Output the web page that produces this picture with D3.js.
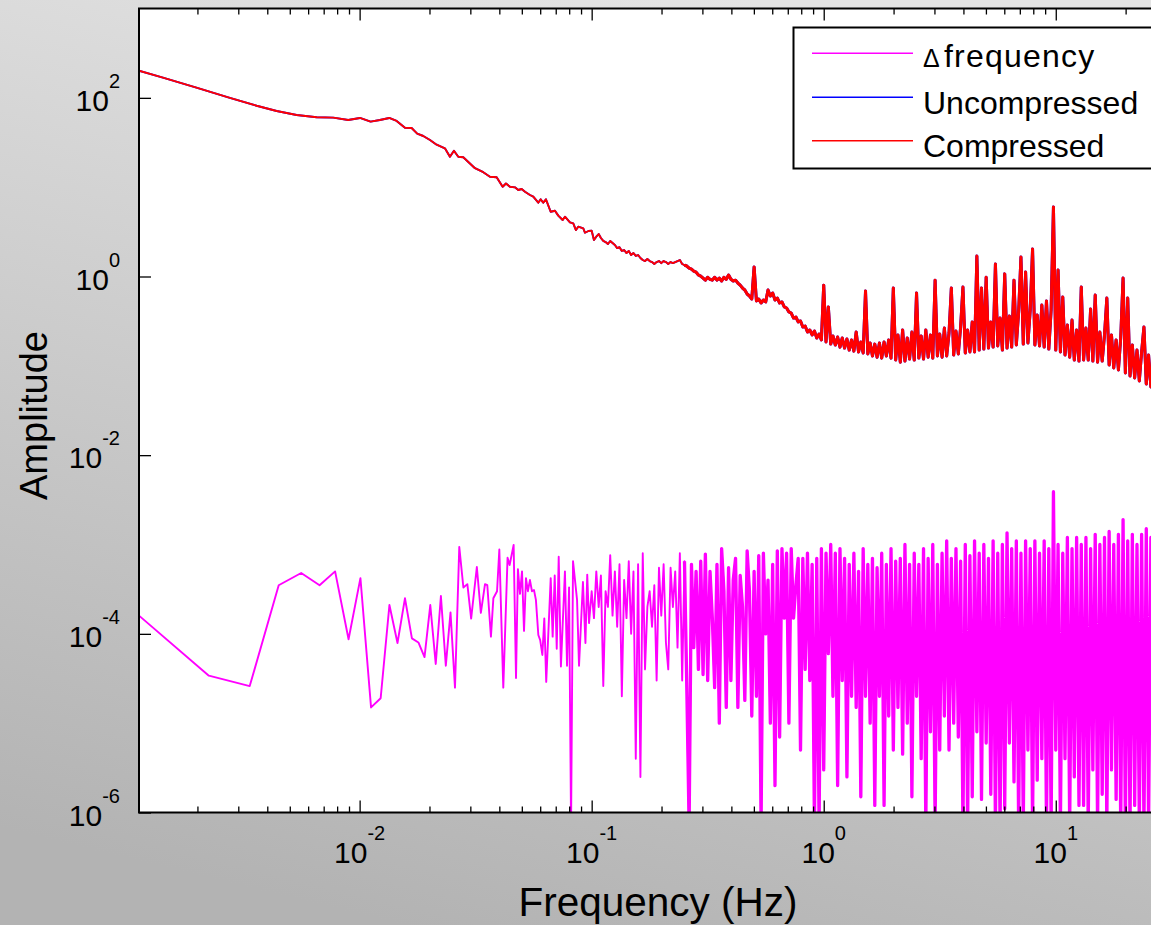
<!DOCTYPE html>
<html>
<head>
<meta charset="utf-8">
<script src="https://cdn.jsdelivr.net/npm/d3@7"></script>
<style>
  html, body { margin: 0; padding: 0; overflow: hidden; background: #cfcfcf; }
  svg { display: block; font-family: "Liberation Sans", Arial, sans-serif; }
</style>
</head>
<body>
<svg id="chart" width="1151" height="925"></svg>
<script>
// ---- data ----
// low-frequency part of the spectra (below 0.1 Hz)
const redLowFreq = [0.00112, 0.00142, 0.00198, 0.00276, 0.0036, 0.00439, 0.00535, 0.00653, 0.0077, 0.00893,
  0.01003, 0.01115, 0.01223, 0.01341, 0.01444, 0.01568, 0.01675, 0.01771, 0.0188, 0.0201,
  0.02147, 0.02331, 0.0245, 0.0255, 0.02661, 0.02797, 0.03141, 0.0341, 0.03644, 0.03895,
  0.04134, 0.04272, 0.04444, 0.04671, 0.04826, 0.04992, 0.05158, 0.05421, 0.05602, 0.05886,
  0.06028, 0.06185, 0.06353, 0.06658, 0.06948, 0.07178, 0.07499, 0.07672, 0.08061, 0.08329,
  0.08555, 0.08753, 0.092, 0.09357, 0.0969];
const redLowAmp = [201, 168, 130, 100, 81.6, 71.2, 64.3, 60.6, 60.0, 56.5,
  59.5, 54.1, 56.5, 59.5, 55.1, 46.3, 45.9, 39.7, 37.4, 33.7,
  29.9, 27.2, 21.9, 25.6, 21.9, 21.6, 16.3, 14.7, 13.1, 12.9,
  10.1, 11.0, 10.1, 9.96, 9.29, 9.53, 8.89, 8.17, 7.82, 6.70,
  7.31, 6.70, 7.31, 5.31, 5.45, 4.80, 4.29, 4.67, 4.04, 3.94,
  3.31, 3.61, 3.46, 3.09, 3.23];

const magLowFreq = [0.00112, 0.00224, 0.00336, 0.00448, 0.0056, 0.00672, 0.00784, 0.00896, 0.01008, 0.0112,
  0.01232, 0.01344, 0.01456, 0.01568, 0.0168, 0.01792, 0.01904, 0.02016, 0.02128, 0.0224,
  0.02352, 0.02464, 0.02576, 0.02688, 0.028, 0.02912, 0.03024, 0.032, 0.0333, 0.0347,
  0.0355, 0.0368, 0.0377, 0.0391, 0.04, 0.0416, 0.0434, 0.0443, 0.0461, 0.0472,
  0.0481, 0.0491, 0.0501, 0.0511, 0.0521, 0.0531, 0.0542, 0.0553, 0.0564, 0.0575,
  0.0589, 0.06, 0.0613, 0.0625, 0.0637, 0.0666, 0.0679, 0.0693, 0.0707, 0.0721,
  0.0737, 0.0767, 0.0783, 0.0799, 0.0815, 0.0831, 0.0865, 0.0882, 0.0917, 0.094,
  0.0957, 0.0974];
const magLowAmp = [1.6e-4, 3.4e-5, 2.6e-5, 3.5e-4, 4.8e-4, 3.5e-4, 5e-4, 8.7e-5, 4.2e-4, 1.5e-5,
  1.9e-5, 2.1e-4, 7.9e-5, 2.5e-4, 8.9e-5, 8e-5, 5.5e-5, 2.1e-4, 4.6e-5, 2.65e-4,
  4.4e-5, 1.74e-4, 2.5e-5, 9.4e-4, 3.3e-4, 3.6e-4, 1.48e-4, 5.6e-4, 1.72e-4, 3.6e-4,
  3.5e-4, 9.3e-5, 2.5e-4, 3e-4, 8.8e-4, 2.5e-5, 7.1e-4, 5.9e-4, 9.9e-4, 3.2e-5,
  5.3e-4, 2.8e-4, 5e-4, 1.08e-4, 4.2e-4, 3e-4, 4e-4, 3e-4, 3.1e-4, 2.4e-4,
  9.7e-5, 8.5e-5, 5.8e-5, 1.49e-4, 2.9e-5, 4.2e-4, 9.3e-5, 4.5e-4, 6.8e-5, 7.3e-4,
  4.3e-5, 5e-4, 4.4e-5, 3.3e-4, 7e-7, 6.5e-4, 2.4e-4, 4.4e-5, 3.8e-4, 7.9e-5,
  4.6e-4, 1.32e-4];

// high-frequency part (0.1 Hz and up), both spectra sampled at these frequencies
const hiFreq = [0.1, 0.1023, 0.1047, 0.1072, 0.1096, 0.1122, 0.1148, 0.1175, 0.1202, 0.123,
  0.1259, 0.1288, 0.1318, 0.1349, 0.138, 0.1413, 0.1445, 0.1479, 0.1514, 0.1549,
  0.1585, 0.1622, 0.166, 0.1698, 0.1738, 0.1778, 0.182, 0.1862, 0.1905, 0.195,
  0.1995, 0.2042, 0.2089, 0.2138, 0.2188, 0.2239, 0.2291, 0.2344, 0.2399, 0.2455,
  0.2512, 0.257, 0.263, 0.2692, 0.2754, 0.2818, 0.2884, 0.2951, 0.302, 0.309,
  0.3162, 0.3236, 0.3311, 0.3388, 0.3467, 0.3548, 0.3631, 0.3715, 0.3802, 0.389,
  0.3981, 0.4074, 0.4169, 0.4266, 0.4365, 0.4467, 0.4571, 0.4677, 0.4786, 0.4898,
  0.5012, 0.5129, 0.5248, 0.537, 0.5495, 0.5623, 0.5754, 0.5888, 0.6026, 0.6166,
  0.631, 0.6457, 0.6607, 0.6761, 0.6918, 0.7079, 0.7244, 0.7413, 0.7586, 0.7762,
  0.7943, 0.8128, 0.8318, 0.8511, 0.871, 0.8913, 0.912, 0.9333, 0.955, 0.9772,
  1, 1.023, 1.047, 1.072, 1.096, 1.122, 1.148, 1.175, 1.202, 1.23,
  1.259, 1.288, 1.318, 1.349, 1.38, 1.413, 1.445, 1.479, 1.514, 1.549,
  1.585, 1.622, 1.66, 1.698, 1.738, 1.778, 1.82, 1.862, 1.905, 1.95,
  1.995, 2.042, 2.089, 2.138, 2.188, 2.239, 2.291, 2.344, 2.399, 2.455,
  2.512, 2.57, 2.63, 2.692, 2.754, 2.818, 2.884, 2.951, 3.02, 3.09,
  3.162, 3.236, 3.311, 3.388, 3.467, 3.548, 3.631, 3.715, 3.802, 3.89,
  3.981, 4.074, 4.169, 4.266, 4.365, 4.467, 4.571, 4.677, 4.786, 4.898,
  5.012, 5.129, 5.248, 5.37, 5.495, 5.623, 5.754, 5.888, 6.026, 6.166,
  6.31, 6.457, 6.607, 6.761, 6.918, 7.079, 7.244, 7.413, 7.586, 7.762,
  7.943, 8.128, 8.318, 8.511, 8.71, 8.913, 9.12, 9.333, 9.55, 9.772,
  10, 10.23, 10.47, 10.72, 10.96, 11.22, 11.48, 11.75, 12.02, 12.3,
  12.59, 12.88, 13.18, 13.49, 13.8, 14.13, 14.45, 14.79, 15.14, 15.49,
  15.85, 16.22, 16.6, 16.98, 17.38, 17.78, 18.2, 18.62, 19.05, 19.5,
  19.95, 20.42, 20.89, 21.38, 21.88, 22.39, 22.91, 23.44, 23.99, 24.55,
  25.12, 25.7, 26.3];

const redHiAmp = [3.26, 2.56, 2.79, 2.99, 2.70, 2.50, 2.43, 2.31, 2.50, 2.37,
  2.25, 2.08, 2.13, 1.93, 1.98, 1.83, 1.93, 1.74, 1.83, 1.70,
  1.74, 1.61, 1.53, 1.49, 1.57, 1.49, 1.45, 1.38, 1.45, 1.49,
  1.41, 1.49, 1.45, 1.38, 1.45, 1.41, 1.45, 1.49, 1.53, 1.38,
  1.34, 1.31, 1.24, 1.21, 1.15, 1.12, 1.04, 1.01, 0.96, 0.91,
  0.98, 0.93, 0.91, 0.98, 0.91, 0.96, 0.89, 0.98, 0.93, 1.04,
  0.93, 0.89, 0.91, 0.845, 0.80, 0.743, 0.706, 0.637, 0.605, 0.56,
  1.28, 0.532, 0.56, 0.505, 0.546, 0.519, 0.706, 0.605, 0.653, 0.546,
  0.574, 0.505, 0.519, 0.456, 0.444, 0.401, 0.39, 0.343, 0.352, 0.31,
  0.318, 0.272, 0.279, 0.239, 0.252, 0.222, 0.245, 0.205, 0.227, 0.195,
  0.80, 0.185, 0.456, 0.175, 0.216, 0.171, 0.21, 0.162, 0.205, 0.158,
  0.20, 0.15, 0.195, 0.146, 0.239, 0.143, 0.185, 0.139, 0.688, 0.136,
  0.18, 0.129, 0.175, 0.125, 0.18, 0.122, 0.185, 0.129, 0.195, 0.122,
  0.743, 0.116, 0.222, 0.11, 0.252, 0.113, 0.205, 0.119, 0.239, 0.116,
  0.653, 0.122, 0.216, 0.119, 0.252, 0.125, 0.222, 0.122, 0.91, 0.129,
  0.227, 0.125, 0.265, 0.129, 0.233, 0.743, 0.132, 0.245, 0.136, 0.272,
  0.763, 0.139, 0.252, 0.143, 0.31, 0.143, 1.70, 0.15, 0.743, 0.154,
  0.98, 0.158, 0.31, 0.162, 1.38, 0.167, 0.343, 0.15, 1.07, 0.158,
  0.361, 0.162, 0.91, 0.171, 0.401, 1.65, 0.175, 1.12, 0.18, 0.422,
  2.03, 0.171, 0.37, 0.167, 0.48, 0.162, 0.532, 0.154, 0.422, 6.0,
  0.15, 1.18, 0.143, 0.59, 0.132, 0.286, 0.125, 0.326, 0.116, 0.252,
  0.113, 0.763, 0.116, 0.265, 0.116, 0.433, 0.113, 0.62, 0.11, 0.239,
  0.113, 0.222, 0.574, 0.102, 0.222, 0.0946, 0.195, 0.0898, 0.205, 0.96,
  0.083, 0.574, 0.0769, 0.171, 0.0731, 0.15, 0.0677, 0.143, 0.272, 0.0626,
  0.132, 0.058, 0.116];

const magHiAmp = [3e-4, 1.5e-4, 5e-4, 2e-4, 4.5e-4, 2.6e-5, 3e-4, 2e-4, 7.6e-4, 1.6e-4,
  5e-4, 1.2e-4, 6e-4, 2e-5, 4e-4, 1.5e-4, 6.5e-4, 1e-4, 5e-4, 4e-6,
  6e-4, 2.5e-6, 8e-4, 4e-5, 2e-4, 3e-4, 1.2e-4, 3.5e-4, 3e-5, 5.5e-4,
  1.6e-4, 6e-4, 8e-5, 4e-5, 5.5e-4, 2e-4, 5e-4, 7e-5, 8e-4, 3e-5,
  6.5e-4, 2.5e-5, 7e-7, 6e-4, 7e-5, 5e-4, 4e-5, 6.5e-4, 3.5e-5, 7.8e-4,
  3e-5, 5e-4, 1.5e-4, 2.5e-5, 6e-4, 1e-5, 9e-4, 3e-4, 1.5e-5, 5.5e-4,
  3e-5, 4e-4, 7e-4, 1.5e-5, 4.5e-4, 2e-4, 1.8e-5, 8.5e-4, 3e-4, 1.2e-5,
  5e-4, 2e-5, 7.5e-4, 7e-7, 8e-4, 1e-4, 4e-4, 1e-5, 6e-4, 2e-6,
  8.5e-4, 7e-6, 9e-4, 1.5e-4, 8e-4, 1e-5, 9e-4, 1.5e-4, 3.5e-4, 7e-4,
  5e-6, 7e-4, 4e-5, 8e-4, 3e-5, 6e-4, 7e-7, 7e-4, 7e-7, 9e-4,
  3e-6, 8e-4, 6e-5, 1e-3, 2e-5, 8e-4, 2e-6, 9e-4,
  3e-5, 7e-4, 2.5e-6, 6e-4, 2e-5, 8e-4, 1.5e-5, 5e-4, 1.5e-6, 9e-4,
  2e-5, 6e-4, 1e-5, 7e-4, 1.2e-6, 5.5e-4, 2e-5, 8e-4, 1.2e-6, 6e-4,
  1.2e-5, 9e-4, 5e-6, 6.5e-4, 1.5e-5, 7e-4, 4.5e-6, 1e-3, 1e-5, 6e-4,
  1.5e-6, 8e-4, 2e-5, 6e-4, 4e-6, 9e-4, 7e-7, 7e-4, 8e-6, 1e-3,
  7e-7, 6e-4, 5e-6, 8e-4, 1.2e-5, 1.1e-3, 5e-6, 7e-4, 1e-5, 9e-4,
  7e-6, 6.5e-4, 7e-7, 1e-3, 7e-7, 7.5e-4, 1.5e-6, 1.1e-3, 8e-6, 8e-4,
  1.4e-6, 1e-3, 6e-6, 7e-4, 1.6e-6, 1.1e-3, 7e-7, 8e-4, 7e-7, 1e-3,
  1.1e-6, 1.35e-3, 6e-6, 9e-4, 2.2e-6, 1.1e-3, 7e-7, 8e-4, 7e-7, 1.1e-3,
  5e-6, 9e-4, 7e-7, 1.1e-3, 2.3e-6, 8e-4, 4e-6, 1.1e-3, 7e-7, 9e-4,
  7e-7, 3.9e-3, 5e-6, 1e-3, 7e-7, 8e-4, 4e-6, 1.2e-3, 7e-7, 9e-4,
  2.5e-6, 1.2e-3, 1.2e-6, 1e-3, 1.2e-6, 1.2e-3, 7e-7, 9e-4, 3e-6, 1.3e-3,
  7e-7, 1e-3, 1.6e-6, 1.2e-3, 7e-7, 1.4e-3, 3e-6, 1e-3, 1.4e-6, 1.3e-3,
  7e-7, 1.9e-3, 7e-7, 1.1e-3, 7e-7, 1.3e-3, 1.2e-6, 1e-3, 7e-7, 1.3e-3,
  7e-7, 1.5e-3, 7e-7, 1.2e-3, 3e-6];

// axis ticks and labels
const xMajorTicks = [0.01, 0.1, 1, 10];
const xTickExp = ["-2", "-1", "0", "1"];
const yMajorTicks = [1e-6, 1e-4, 1e-2, 1, 100];
const yTickExp = ["-6", "-4", "-2", "0", "2"];
const legendNames = ["frequency", "Uncompressed", "Compressed"];
const legendColors = ["#ff00ff", "#0000ff", "#ff0000"];

// ---- build the series ----
const pairs = (fs, as) => fs.map((f, i) => [f, as[i]]);
const redHi = pairs(hiFreq, redHiAmp);
const magHi = pairs(hiFreq, magHiAmp);
const compressed = pairs(redLowFreq, redLowAmp).concat(redHi);
const uncompressed = compressed; // sits right under the red curve
const deltaFreq = pairs(magLowFreq, magLowAmp).concat(magHi);

const svg = d3.select("#chart");
const width = +svg.attr("width");
const height = +svg.attr("height");

const plot = { left: 139, top: 8.5, right: 1177, bottom: 812.5 };

//background
const defs = svg.append("defs");
const grad = defs.append("linearGradient").attr("id", "bg")
  .attr("x1", 0.65).attr("y1", 0).attr("x2", 0.35).attr("y2", 1);
grad.append("stop").attr("offset", 0).attr("stop-color", "#e4e4e4");
grad.append("stop").attr("offset", 1).attr("stop-color", "#b3b3b3");
svg.append("rect").attr("width", width).attr("height", height).attr("fill", "url(#bg)");

defs.append("clipPath").attr("id", "clip").append("rect")
  .attr("x", plot.left).attr("y", plot.top)
  .attr("width", plot.right - plot.left).attr("height", plot.bottom - plot.top);

svg.append("rect")
  .attr("x", plot.left).attr("y", plot.top)
  .attr("width", plot.right - plot.left).attr("height", plot.bottom - plot.top)
  .attr("fill", "white");

//scales
const x = d3.scaleLog().domain([0.00112, 33.3]).range([plot.left, plot.right]);
const y = d3.scaleLog().domain([1e-6, 1e3]).range([plot.bottom, plot.top]);

const line = d3.line().x(d => x(d[0])).y(d => y(d[1]));

//lines - the dense high-frequency stretch is stroked heavier so it reads as a solid band
const lines = svg.append("g").attr("clip-path", "url(#clip)").attr("fill", "none")
  .attr("stroke-linejoin", "round");
[[deltaFreq, magHi, 0, 3.3], [uncompressed, redHi, 1, 3], [compressed, redHi, 2, 3]].forEach(([full, hi, i, w]) => {
  lines.append("path").datum(full).attr("d", line)
    .attr("stroke", legendColors[i]).attr("stroke-width", 1.9);
  lines.append("path").datum(hi.slice(40)).attr("d", line)
    .attr("stroke", legendColors[i]).attr("stroke-width", w);
});

//ticks (inward, on all sides of the box)
const xMinorTicks = [];
[0.001, 0.01, 0.1, 1, 10].forEach(d => {
  for (let m = 2; m <= 9; m++) {
    const v = m * d;
    if (v > x.domain()[0] && v < x.domain()[1]) xMinorTicks.push(v);
  }
});

const axes = svg.append("g");
[{ ticks: xMinorTicks, size: 6 }, { ticks: xMajorTicks, size: 12 }].forEach(t => {
  axes.append("g").attr("transform", `translate(0,${plot.bottom})`)
    .call(d3.axisTop(x).tickValues(t.ticks).tickSize(t.size).tickSizeOuter(0).tickFormat(""));
  axes.append("g").attr("transform", `translate(0,${plot.top})`)
    .call(d3.axisBottom(x).tickValues(t.ticks).tickSize(t.size).tickSizeOuter(0).tickFormat(""));
});
axes.append("g").attr("transform", `translate(${plot.left},0)`)
  .call(d3.axisRight(y).tickValues(yMajorTicks).tickSize(12).tickSizeOuter(0).tickFormat(""));
axes.selectAll(".domain").remove();
axes.selectAll(".tick line").attr("stroke", "black").attr("stroke-width", 1.3);

//box
svg.append("rect")
  .attr("x", plot.left).attr("y", plot.top)
  .attr("width", plot.right - plot.left).attr("height", plot.bottom - plot.top)
  .attr("fill", "none").attr("stroke", "black").attr("stroke-width", 2);

//tick labels
xMajorTicks.forEach((v, i) => {
  const t = svg.append("text")
    .attr("x", x(v)).attr("y", 863)
    .attr("text-anchor", "middle")
    .attr("font-size", 30);
  t.append("tspan").text("10");
  t.append("tspan").attr("dy", -23).attr("font-size", 20).text(xTickExp[i]);
});
yMajorTicks.forEach((v, i) => {
  const t = svg.append("text")
    .attr("x", 120).attr("y", y(v) + 13)
    .attr("text-anchor", "end")
    .attr("font-size", 30);
  t.append("tspan").text("10");
  t.append("tspan").attr("dy", -23).attr("font-size", 20).text(yTickExp[i]);
});

//axis titles
svg.append("text")
  .attr("x", 658).attr("y", 916)
  .attr("text-anchor", "middle")
  .attr("font-size", 40.5)
  .text("Frequency (Hz)");
svg.append("text")
  .attr("transform", `translate(47,${(plot.top + plot.bottom) / 2 + 5}) rotate(-90)`)
  .attr("text-anchor", "middle")
  .attr("font-size", 38)
  .text("Amplitude");

//legend
const legend = svg.append("g");
legend.append("rect")
  .attr("x", 793.5).attr("y", 27.5).attr("width", 380).attr("height", 141)
  .attr("fill", "white").attr("stroke", "black").attr("stroke-width", 2);
const rowY = [53.3, 97.3, 140.7];
legendNames.forEach((name, i) => {
  legend.append("line")
    .attr("x1", 812).attr("x2", 913).attr("y1", rowY[i]).attr("y2", rowY[i])
    .attr("stroke", legendColors[i]).attr("stroke-width", 1.5);
  const t = legend.append("text")
    .attr("x", 923).attr("y", rowY[i] + (i === 0 ? 14 : 16.5))
    .attr("font-size", 32);
  if (i === 0) {
    t.append("tspan").attr("font-size", 25).text("\u0394");
    t.append("tspan").attr("x", 944).attr("letter-spacing", 1.2).text(name);
  } else {
    t.text(name);
  }
});
</script>
</body>
</html>
